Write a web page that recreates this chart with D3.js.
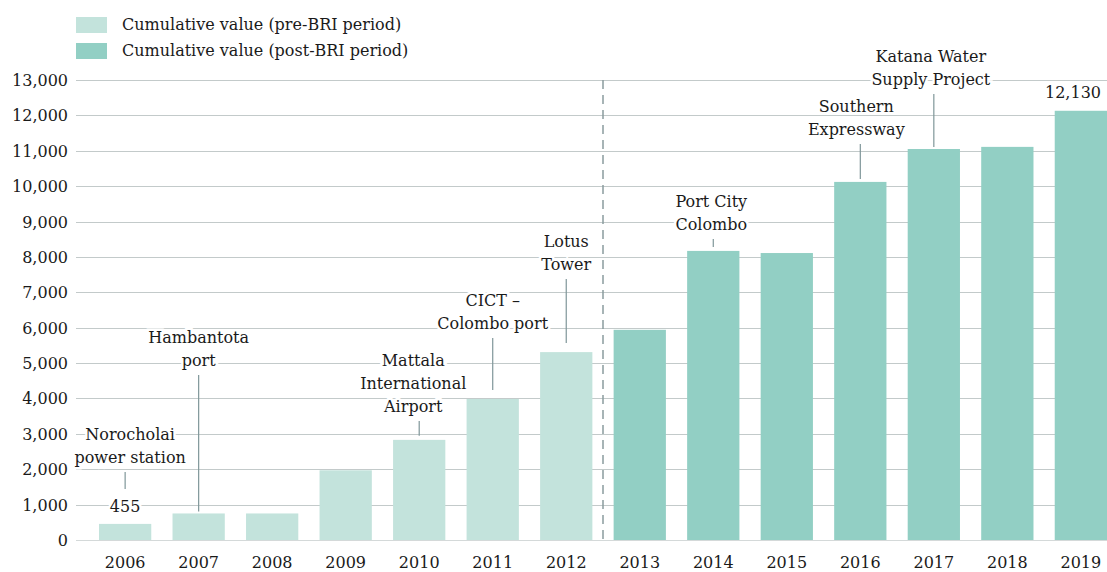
<!DOCTYPE html>
<html>
<head>
<meta charset="utf-8">
<script src="https://cdn.jsdelivr.net/npm/d3@7"></script>
<style>
  body { margin: 0; background: #fff; }
  text { font-family: "DejaVu Serif", serif; fill: #1a1a1a; }
</style>
</head>
<body>
<div id="canvas"></div>
<script>
var w = 1107;
var h = 572;

// data
var years = ["2006", "2007", "2008", "2009", "2010", "2011", "2012",
             "2013", "2014", "2015", "2016", "2017", "2018", "2019"];
var values = [455, 750, 750, 1970, 2830, 3985, 5310,
              5940, 8170, 8110, 10120, 11050, 11110, 12130];
var periods = ["pre", "pre", "pre", "pre", "pre", "pre", "pre",
               "post", "post", "post", "post", "post", "post", "post"];
var yTicks = [0, 1000, 2000, 3000, 4000, 5000, 6000, 7000, 8000, 9000, 10000, 11000, 12000, 13000];
var legendLabels = ["Cumulative value (pre-BRI period)", "Cumulative value (post-BRI period)"];

// project annotations: year, text lines, value level of last text baseline
var noteYears = ["2006", "2007", "2010", "2011", "2012", "2014", "2016", "2017"];
var noteLines = [
  ["Norocholai", "power station"],
  ["Hambantota", "port"],
  ["Mattala", "International", "Airport"],
  ["CICT \u2013", "Colombo port"],
  ["Lotus", "Tower"],
  ["Port City", "Colombo"],
  ["Southern", "Expressway"],
  ["Katana Water", "Supply Project"]
];
var noteLevels = [2175, 4918, 3618, 5964, 7630, 8760, 11447, 12860];
var noteShift = [5, 0, -6, 0, 0, -2, -4, -3];
var noteGap = [0, 2, 4, 9, 9, 4, 3, 2];

var colors = { pre: "#c3e3dc", post: "#92cfc4" };

var svg = d3.select("#canvas").append("svg")
  .attr("width", w).attr("height", h);

var y = d3.scaleLinear().domain([0, 13000]).range([540, 80]);
var x = d3.scaleBand().domain(years).range([99, 1107]).paddingInner(0.289).paddingOuter(0);

// gridlines
svg.append("g").selectAll("line")
  .data(yTicks)
  .join("line")
  .attr("x1", 76).attr("x2", w)
  .attr("y1", d => Math.round(y(d)) + 0.5).attr("y2", d => Math.round(y(d)) + 0.5)
  .attr("stroke", d => d === 0 ? "#d4d9d9" : "#c3caca")
  .attr("stroke-width", 1.2);

// y labels
svg.append("g").selectAll("text")
  .data(yTicks)
  .join("text")
  .attr("x", 68)
  .attr("y", d => y(d) + 6)
  .attr("text-anchor", "end")
  .style("font-size", "16px")
  .text(d => d3.format(",")(d));

// bars
svg.append("g").selectAll("rect")
  .data(values)
  .join("rect")
  .attr("x", (d, i) => x(years[i]))
  .attr("width", x.bandwidth())
  .attr("y", d => y(d))
  .attr("height", d => y(0) - y(d))
  .attr("fill", (d, i) => colors[periods[i]]);

// x labels
svg.append("g").selectAll("text")
  .data(years)
  .join("text")
  .attr("x", d => x(d) + x.bandwidth() / 2)
  .attr("y", 568)
  .attr("text-anchor", "middle")
  .style("font-size", "16px")
  .text(d => d);

// dashed BRI divider between 2012 and 2013
var divX = (x("2012") + x.bandwidth() + x("2013")) / 2;
svg.append("line")
  .attr("x1", divX).attr("x2", divX)
  .attr("y1", y(13000)).attr("y2", y(0))
  .attr("stroke", "#8a9c9e")
  .attr("stroke-width", 1.5)
  .attr("stroke-dasharray", "9,6");

// annotations
var lineH = 23;
noteYears.forEach(function(yr, k) {
  var i = years.indexOf(yr);
  var cx = x(yr) + x.bandwidth() / 2;
  var base = y(noteLevels[k]);
  var lines = noteLines[k];
  var g = svg.append("g");

  // leader
  var top = base + 9;
  var bottom = y(values[i]) - noteGap[k];
  if (yr === "2006") bottom = top + 17;
  g.append("line")
    .attr("x1", cx).attr("x2", cx)
    .attr("y1", top).attr("y2", bottom)
    .attr("stroke", "#7f9699")
    .attr("stroke-width", 1.2);

  g.selectAll("text")
    .data(lines)
    .join("text")
    .attr("x", cx + noteShift[k])
    .attr("y", (d, j) => base - (lines.length - 1 - j) * lineH)
    .attr("text-anchor", "middle")
    .attr("stroke", "#fff")
    .attr("stroke-width", 5)
    .attr("paint-order", "stroke")
    .style("font-size", "16px")
    .text(d => d);
});

// value labels on first and last bars
[0, years.length - 1].forEach(function(i) {
  var cx = x(years[i]) + x.bandwidth() / 2;
  svg.append("text")
    .attr("x", i === 0 ? cx : Math.min(cx, w - 34))
    .attr("y", y(values[i]) - (i === 0 ? 12 : 13))
    .attr("text-anchor", "middle")
    .attr("stroke", "#fff")
    .attr("stroke-width", 5)
    .attr("paint-order", "stroke")
    .style("font-size", "16px")
    .text(d3.format(",")(values[i]));
});

// legend
var legend = svg.append("g");
legendLabels.forEach(function(lbl, i) {
  legend.append("rect")
    .attr("x", 76).attr("y", 17 + i * 26)
    .attr("width", 31).attr("height", 16)
    .attr("fill", i === 0 ? colors.pre : colors.post);
  legend.append("text")
    .attr("x", 122).attr("y", 30 + i * 26)
    .style("font-size", "16px")
    .text(lbl);
});
</script>
</body>
</html>
